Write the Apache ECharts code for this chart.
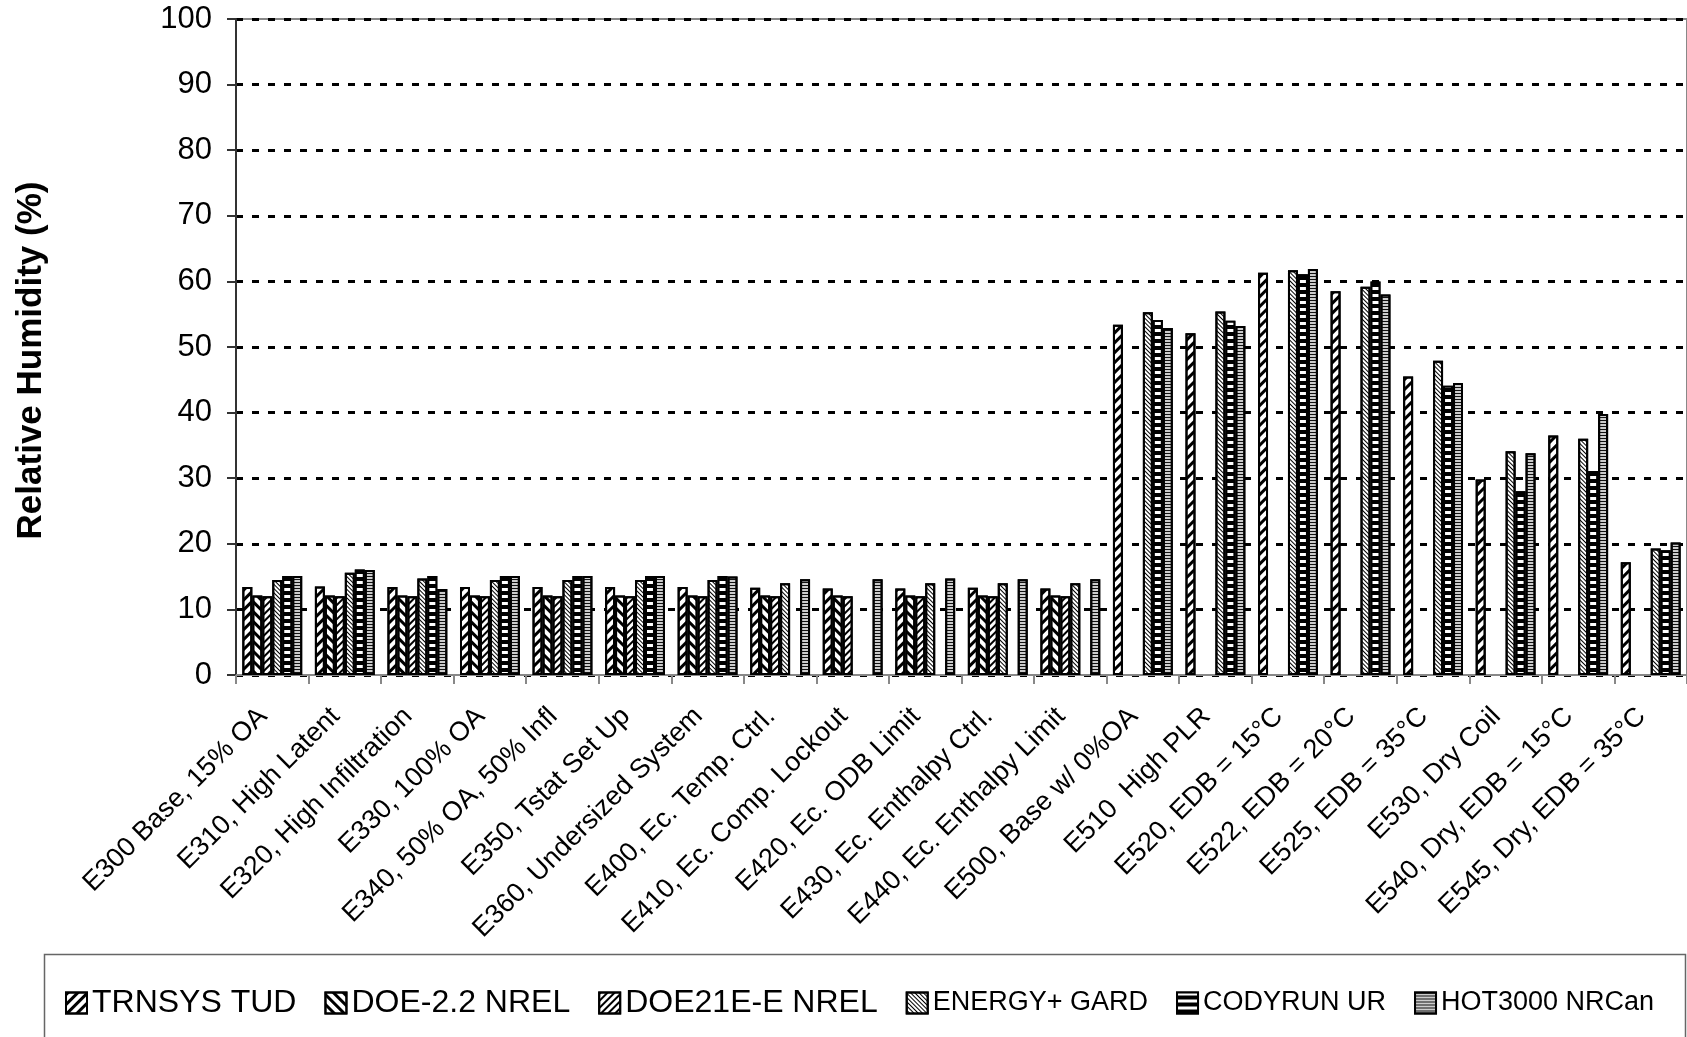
<!DOCTYPE html>
<html>
<head>
<meta charset="utf-8">
<title>Relative Humidity</title>
<script src="https://cdn.jsdelivr.net/npm/echarts@6/dist/echarts.min.js"></script>
<style>
    html, body { margin: 0; padding: 0; background: #fff; }
    #chart { width: 1687px; height: 1037px; }
</style>
</head>
<body>
<div id="chart"></div>
<script>
// test cases on the x axis
var categories = ["E300 Base, 15% OA", "E310, High Latent", "E320, High Infiltration", "E330, 100% OA",
    "E340, 50% OA, 50% Infl", "E350, Tstat Set Up", "E360, Undersized System", "E400, Ec. Temp. Ctrl.",
    "E410, Ec. Comp. Lockout", "E420, Ec. ODB Limit", "E430, Ec. Enthalpy Ctrl.", "E440, Ec. Enthalpy Limit",
    "E500, Base w/ 0%OA", "E510  High PLR", "E520, EDB = 15°C", "E522, EDB = 20°C", "E525, EDB = 35°C",
    "E530, Dry Coil", "E540, Dry, EDB = 15°C", "E545, Dry, EDB = 35°C"];

var seriesNames = ["TRNSYS TUD", "DOE-2.2 NREL", "DOE21E-E NREL", "ENERGY+ GARD", "CODYRUN UR", "HOT3000 NRCan"];

// relative humidity (%) per program, null = no result
var trnsys = [13.4, 13.5, 13.4, 13.4, 13.4, 13.4, 13.4, 13.3, 13.2, 13.2, 13.3, 13.2,
    53.4, 52.1, 61.3, 58.5, 45.5, 29.8, 36.5, 17.2];
var doe22 = [12.1, 12.1, 12.1, 12.1, 12.1, 12.1, 12.1, 12.1, 12.1, 12.1, 12.1, 12.1,
    null, null, null, null, null, null, null, null];
var doe21e = [12.0, 12.0, 12.0, 12.0, 12.0, 12.0, 12.0, 12.0, 12.0, 12.0, 12.0, 12.0,
    null, null, null, null, null, null, null, null];
var energyPlus = [14.5, 15.6, 14.7, 14.5, 14.5, 14.5, 14.5, 14.0, null, 14.0, 14.0, 14.0,
    55.3, 55.4, 61.7, 59.2, 47.9, 34.1, 36.0, 19.3];
var codyrun = [15.1, 16.1, 15.1, 15.1, 15.1, 15.1, 15.1, null, null, null, null, null,
    54.1, 54.0, 61.1, 60.0, 44.1, 28.0, 31.1, 19.0];
var hot3000 = [15.1, 16.0, 13.1, 15.1, 15.1, 15.1, 15.0, 14.6, 14.6, 14.7, 14.6, 14.6,
    52.9, 53.2, 61.9, 58.0, 44.5, 33.8, 39.8, 20.2];

var yTicks = [0, 10, 20, 30, 40, 50, 60, 70, 80, 90, 100];

var font = "'Liberation Sans', Arial, sans-serif";

// hatch patterns (decals) for the black and white bars
function hatch(rot, thick, gap, color) {
    return {
        symbol: "rect",
        symbolSize: 1,
        color: color,
        dashArrayX: [1, 0],
        dashArrayY: [thick, gap],
        rotation: rot
    };
}

var styles = [
    { fill: "#fff", decal: hatch(-Math.PI / 4, 3, 4, "#000") },
    { fill: "#fff", decal: hatch(Math.PI / 4, 3, 4, "#000") },
    { fill: "#fff", decal: hatch(-Math.PI / 4, 2, 3, "#000") },
    { fill: "#fff", decal: hatch(Math.PI / 4, 1, 2, "#000") },
    { fill: "#000", decal: hatch(0, 3, 4, "#fff") },
    { fill: "#ccc", decal: hatch(0, 1, 2, "#111") }
];

var allData = [trnsys, doe22, doe21e, energyPlus, codyrun, hot3000];

var series = [];
var legendData = [];
for (var i = 0; i < seriesNames.length; i++) {
    series.push({
        name: seriesNames[i],
        type: "bar",
        data: allData[i],
        barGap: "0%",
        barCategoryGap: "17.5%",
        itemStyle: {
            color: styles[i].fill,
            borderColor: "#000",
            borderWidth: 2,
            decal: styles[i].decal
        },
        emphasis: { disabled: true }
    });
    legendData.push({
        name: seriesNames[i],
        textStyle: { fontSize: i < 3 ? 32 : 27 }
    });
}

var myChart = echarts.init(document.getElementById("chart"));
var option = {
    animation: false,
    backgroundColor: "#fff",
    textStyle: { fontFamily: font, color: "#000" },
    grid: {
        left: 236,
        top: 19,
        right: -6,
        bottom: 362,
        show: true,
        borderColor: "#888",
        borderWidth: 2,
        containLabel: false
    },
    // frame around the legend
    graphic: [{
        type: "rect",
        left: 42,
        top: 952,
        shape: { width: 1641, height: 120 },
        style: { fill: "none", stroke: "#666", lineWidth: 1.5 },
        silent: true
    }],
    legend: {
        data: legendData,
        left: 60,
        top: 982,
        itemWidth: 21,
        itemHeight: 21,
        itemGap: 28,
        icon: "rect",
        textStyle: { fontFamily: font, color: "#000", fontSize: 32 }
    },
    xAxis: {
        type: "category",
        data: categories,
        axisLine: { lineStyle: { color: "#888", width: 2 } },
        axisTick: { show: true, length: 9, lineStyle: { color: "#888", width: 2 } },
        axisLabel: {
            interval: 0,
            rotate: 45,
            fontSize: 27,
            margin: 28,
            padding: [0, 13, 0, 0],
            color: "#000",
            fontFamily: font
        },
        splitLine: { show: false }
    },
    yAxis: {
        type: "value",
        min: yTicks[0],
        max: yTicks[yTicks.length - 1],
        interval: yTicks[1] - yTicks[0],
        name: "Relative Humidity (%)",
        nameLocation: "middle",
        nameGap: 187,
        nameTextStyle: {
            fontSize: 35,
            fontWeight: "bold",
            color: "#000",
            fontFamily: font,
            padding: [0, 27, 0, 0]
        },
        axisLine: { show: true, lineStyle: { color: "#333", width: 2 } },
        axisTick: { show: true, length: 9, lineStyle: { color: "#333", width: 2 } },
        axisLabel: { fontSize: 31, margin: 24, color: "#000", fontFamily: font },
        splitLine: { show: true, lineStyle: { color: "#000", width: 3, type: [7, 9] } }
    },
    series: series
};
myChart.setOption(option);
</script>
</body>
</html>
